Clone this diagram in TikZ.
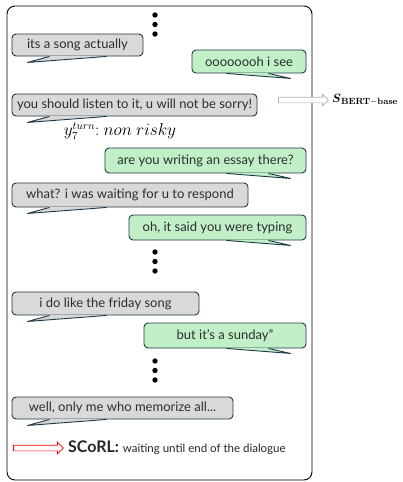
\documentclass[tikz,border=0pt]{standalone}
\usepackage{amsmath}
\usepackage[no-math]{fontspec}
\setmainfont{Lato}
\usetikzlibrary{calc, shapes.arrows}
\definecolor{BubbleGray}{RGB}{217,217,217}
\definecolor{BubbleGreen}{RGB}{193,240,200}
\definecolor{BubbleEdge}{RGB}{30,55,70}
\definecolor{ChatText}{RGB}{45,45,45}

\begin{document}
\begin{tikzpicture}[x=1pt, y=-1pt,
  bubble/.style={draw=BubbleEdge, line width=0.9pt, rounded corners=4pt, text=ChatText, font=\fontsize{13}{15}\selectfont, inner sep=0pt},
  graybubble/.style={bubble, fill=BubbleGray},
  greenbubble/.style={bubble, fill=BubbleGreen},
  tailedge/.style={draw=BubbleEdge, line width=0.9pt, line join=round},
  dots/.style={fill=black}]
\useasboundingbox (0,0) rectangle (403,482);
\draw[line width=0.9pt, rounded corners=8pt] (7,6) rectangle (312,480);
\node[graybubble, minimum width=131, minimum height=22] (b1) at (77.5,45) {its a song actually};
\node[greenbubble, minimum width=114, minimum height=23] (b2) at (249,61.5) {oooooooh i see};
\node[graybubble, minimum width=245, minimum height=22] (b3) at (134.5,105) {you should listen to it, u will not be sorry!};
\node[greenbubble, minimum width=201, minimum height=25] (b4) at (205.5,160.5) {are you writing an essay there?};
\node[graybubble, minimum width=236, minimum height=24] (b5) at (130,195) {what? i was waiting for u to respond};
\node[greenbubble, minimum width=177, minimum height=25] (b6) at (217.5,227.5) {oh, it said you were typing};
\node[graybubble, minimum width=187, minimum height=23] (b7) at (105.5,303.5) {i do like the friday song};
\node[greenbubble, minimum width=162, minimum height=25] (b8) at (225,335.5) {but it's a sunday"};
\node[graybubble, minimum width=221, minimum height=22] (b9) at (122.5,408) {well, only me who memorize all...};
\foreach \b in {b1,b3,b5,b7,b9} {
  \fill[BubbleGray] ($(\b.south west)+(16,6)$) -- ($(\b.south west)+(38,-0.6)$) -- ($(\b.south west)+(95,-0.6)$) -- cycle;
  \draw[tailedge] ($(\b.south west)+(38,0)$) -- ($(\b.south west)+(16,6)$) -- ($(\b.south west)+(95,0)$);
}
\foreach \b in {b2,b4,b6,b8} {
  \fill[BubbleGreen] ($(\b.south east)+(-16,5)$) -- ($(\b.south east)+(-38,-0.6)$) -- ($(\b.south east)+(-80,-0.6)$) -- cycle;
  \draw[tailedge] ($(\b.south east)+(-38,0)$) -- ($(\b.south east)+(-16,5)$) -- ($(\b.south east)+(-80,0)$);
}
\foreach \y in {15,24.5,34, 252,261.5,271, 361,370.5,380}
  \fill[dots] (155,\y) circle (2.7);
\node[font=\fontsize{16}{18}\selectfont] (lab) at (120,131) {$y_7^{turn}{:}\ non\ risky$};
\node[single arrow, draw=gray!60, fill=white, line width=0.7pt, minimum height=50, inner sep=2.5pt, single arrow head extend=3pt] (bertarrow) at (302,100) {};
\node[anchor=west, font=\fontsize{13}{15}\selectfont, inner sep=1pt] (bert) at (331,100) {$\boldsymbol{S}_{\mathbf{BERT-base}}$};
\node[single arrow, draw=red, fill=white, line width=0.7pt, minimum height=50, inner sep=2.5pt, single arrow head extend=3pt] (scorlarrow) at (37,448) {};
\node[anchor=west, text=black!85, inner sep=2pt] (scorl) at (66,448) {\fontsize{16}{18}\selectfont\bfseries SCoRL: \fontsize{11.5}{13}\mdseries waiting until end of the dialogue};
\end{tikzpicture}
\end{document}
